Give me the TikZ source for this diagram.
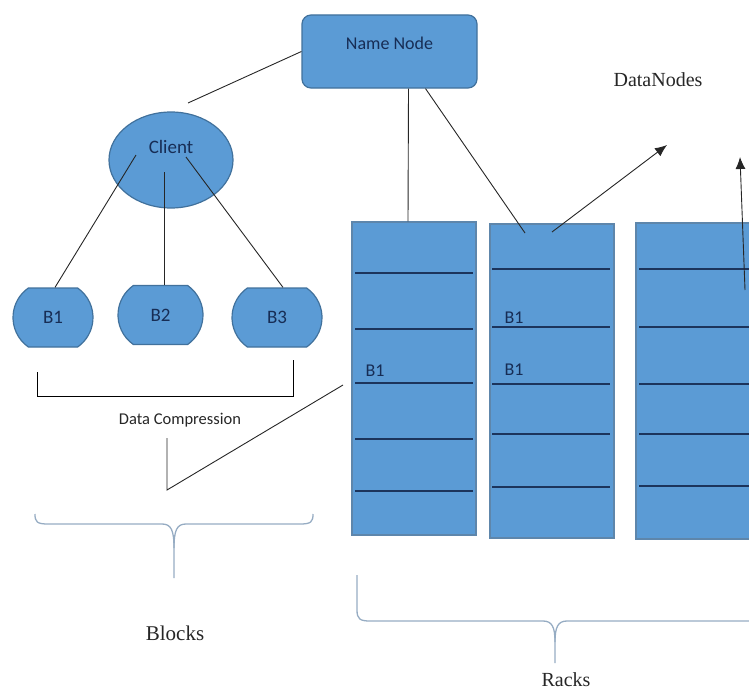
\documentclass[tikz,border=0pt]{standalone}
\usepackage{fontspec}
\setmainfont{Liberation Serif}
\newfontfamily\labelfont{Carlito}
\usetikzlibrary{arrows.meta, shapes.geometric, shapes.misc, calc}
\definecolor{BoxFill}{RGB}{91,155,213}
\definecolor{BoxEdge}{RGB}{65,113,156}
\definecolor{LabelInk}{RGB}{23,45,85}
\definecolor{BraceInk}{RGB}{150,172,195}
\definecolor{RowInk}{RGB}{28,52,92}

\begin{document}
\begin{tikzpicture}[x=1pt, y=-1pt,
  box/.style={fill=BoxFill, draw=BoxEdge, line width=1.2pt, text=LabelInk, font=\labelfont\fontsize{19}{19}\selectfont},
  blockbox/.style={box, rounded rectangle, rounded rectangle arc length=110, minimum height=59pt, inner sep=0pt},
  rack/.style={box, rectangle, draw=BoxEdge!85, minimum width=124pt, inner sep=0pt},
  link/.style={draw=black!85, line width=0.9pt},
  brace/.style={draw=BraceInk, line width=1.3pt},
  row/.style={draw=RowInk, line width=1.6pt},
  serif/.style={font=\fontsize{21}{21}\selectfont, text=black!85}]
  \useasboundingbox (0,0) rectangle (749,693);
  \clip (0,0) rectangle (749,693);

  % name node and client
  \node[box, rounded corners=9pt, minimum width=175pt, minimum height=73pt, font=\labelfont\fontsize{18}{18}\selectfont,
        label={[yshift=8pt, text=LabelInk, font=\labelfont\fontsize{18}{18}\selectfont]center:Name Node}] (name) at (389.5,51.5) {};
  \node[box, ellipse, minimum width=124pt, minimum height=96pt,
        label={[yshift=13pt, text=LabelInk, font=\labelfont\fontsize{19}{19}\selectfont]center:Client}] (client) at (171,160) {};

  % blocks
  \node[blockbox, minimum width=80pt] (b1) at (53,317.5) {B1};
  \node[blockbox, minimum width=85pt] (b2) at (160.5,315) {B2};
  \node[blockbox, minimum width=90pt] (b3) at (277,317.5) {B3};

  % racks
  \node[rack, minimum height=313pt] (rackA) at (414,378.5) {};
  \node[rack, minimum height=314pt] (rackB) at (552,381) {};
  \node[rack, minimum height=316pt] (rackC) at (698,381) {};
  \foreach \y in {273,329,383,439,491} \draw[row] (355,\y) -- (473,\y);
  \foreach \y in {269,327,384,434,487} \draw[row] (492,\y) -- (610,\y);
  \foreach \y in {269,327,384,434,486} \draw[row] (639,\y) -- (760,\y);
  \node[text=LabelInk, font=\labelfont\fontsize{18}{18}\selectfont] (rA1) at (375,371) {B1};
  \node[text=LabelInk, font=\labelfont\fontsize{18}{18}\selectfont] (rB1) at (514,318) {B1};
  \node[text=LabelInk, font=\labelfont\fontsize{18}{18}\selectfont] (rB2) at (514,370) {B1};

  % connectors
  \coordinate (clTop) at (188,103);
  \coordinate (clA) at (136,155);
  \coordinate (clB) at (164,172);
  \coordinate (clC) at (186,157);
  \coordinate (rackHitB) at (525,233);
  \draw[link] (name.west) -- (clTop);
  \draw[link] (clA) -- ($(b1.north)+(2,0)$);
  \draw[link] (clB) -- (clB |- b2.north);
  \draw[link] (clC) -- ($(b3.north)+(6,0)$);
  \draw[link] ($(name.south)+(19,0)$) -- ($(rackA.north)+(-6,0)$);
  \draw[link] ($(name.south)+(36,0)$) -- (rackHitB);

  % data nodes arrows
  \node[serif, font=\fontsize{20}{20}\selectfont] (dn) at (658,80) {DataNodes};
  \coordinate (dnTailA) at (552,232);
  \coordinate (dnTipA) at (667,145);
  \coordinate (dnTailB) at (745,290);
  \coordinate (dnTipB) at (740,157);
  \draw[link, -{Latex[length=12pt, width=10pt]}] (dnTailA) -- (dnTipA);
  \draw[link, -{Latex[length=12pt, width=10pt]}] (dnTailB) -- (dnTipB);

  % data compression
  \draw[link, black] (37,372) -- (37,396) -- (293,396) -- (293,360);
  \node[text=black!85, font=\labelfont\fontsize{16.5}{16.5}\selectfont] (dc) at (180,420) {Data Compression};
  \coordinate (dcTop) at (167,438);
  \coordinate (dcFoot) at (167,490);
  \coordinate (rackHitA) at (343,385);
  \draw[link] (dcTop) -- (dcFoot) -- (rackHitA);

  % braces
  \draw[brace] (35,514) .. controls (35,522) and (37,524) .. (48,524) -- (162,524)
    .. controls (171,524) and (174,530) .. (174,548) -- (174,578);
  \draw[brace] (174,548) .. controls (174,530) and (177,524) .. (186,524) -- (300,524)
    .. controls (311,524) and (313,522) .. (313,514);
  \node[serif] (blocks) at (175,633) {Blocks};
  \draw[brace] (357,575) -- (357,610) .. controls (357,619) and (360,621) .. (370,621) -- (543,621)
    .. controls (552,621) and (555,627) .. (555,642) -- (555,663);
  \draw[brace] (555,642) .. controls (555,627) and (558,621) .. (567,621) -- (760,621);
  \node[serif, font=\fontsize{20}{20}\selectfont] (racks) at (566,680) {Racks};
\end{tikzpicture}
\end{document}
